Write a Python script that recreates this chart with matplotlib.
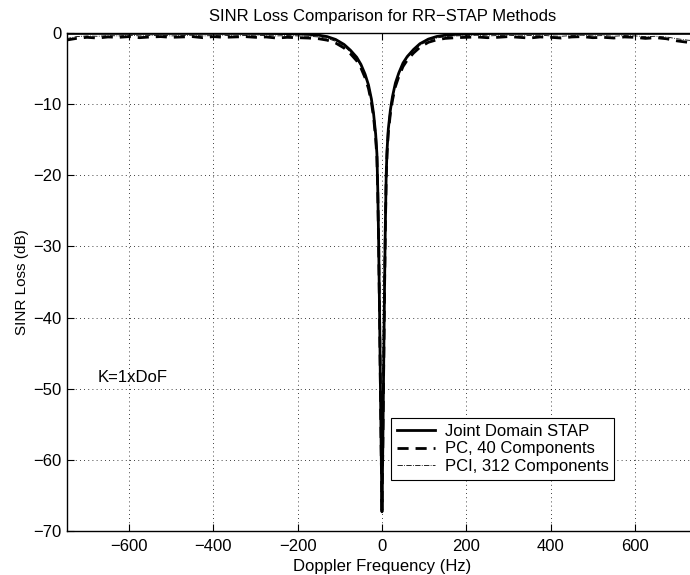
import matplotlib.pyplot as plt

plt.rcParams['font.family'] = ['Liberation Sans', 'DejaVu Sans']
plt.rcParams['font.size'] = 12

# Doppler grid (Hz)
freq_hz = [-750, -725, -700, -675, -650, -625, -600, -575, -550, -525, -500,
           -475, -450, -425, -400, -375, -350, -325, -300, -275, -250, -225,
           -200, -175, -150, -130, -110, -90, -75, -60, -50, -40, -32, -25,
           -20, -15, -12, -10, -8, -6, -4, -2, 0,
           2, 4, 6, 8, 10, 12, 15, 20, 25, 32, 40, 50, 60, 75, 90, 110, 130,
           150, 175, 200, 225, 250, 275, 300, 325, 350, 375, 400, 425, 450,
           475, 500, 525, 550, 575, 600, 625, 650, 675, 700, 725, 750]

# SINR loss (dB)
stap_db = [-0.05, -0.05, -0.05, -0.05, -0.05, -0.05, -0.05, -0.05, -0.05, -0.05,
           -0.05, -0.05, -0.05, -0.05, -0.05, -0.05, -0.05, -0.05, -0.05, -0.06,
           -0.07, -0.09, -0.12, -0.18, -0.3, -0.5, -0.9, -1.6, -2.4, -3.4, -4.4,
           -5.8, -7.3, -9.3, -11.3, -14.2, -17.0, -22.0, -29.0, -38.0, -48.0,
           -58.0, -67.3,
           -58.0, -47.0, -36.0, -27.0, -20.0, -16.5, -13.5, -10.8, -8.9, -7.0,
           -5.6, -4.2, -3.3, -2.3, -1.5, -0.85, -0.48, -0.3, -0.18, -0.12, -0.09,
           -0.07, -0.06, -0.05, -0.05, -0.05, -0.05, -0.05, -0.05, -0.05, -0.05,
           -0.05, -0.05, -0.05, -0.05, -0.05, -0.05, -0.05, -0.05, -0.05, -0.05,
           -0.05]

pc_db = [-1.0, -0.75, -0.6, -0.7, -0.55, -0.6, -0.5, -0.65, -0.55, -0.5, -0.6,
         -0.55, -0.5, -0.65, -0.5, -0.6, -0.55, -0.5, -0.6, -0.55, -0.7, -0.6,
         -0.65, -0.7, -0.8, -1.0, -1.4, -2.1, -2.9, -3.9, -4.9, -6.3, -7.8,
         -9.8, -11.8, -14.8, -17.5, -22.5, -29.5, -38.5, -48.5, -58.5, -67.0,
         -58.5, -47.5, -36.5, -27.5, -20.5, -17.0, -14.0, -11.3, -9.4, -7.5,
         -6.1, -4.7, -3.8, -2.8, -2.0, -1.3, -0.95, -0.75, -0.65, -0.6, -0.55,
         -0.65, -0.6, -0.5, -0.6, -0.7, -0.55, -0.6, -0.7, -0.55, -0.5, -0.65,
         -0.6, -0.7, -0.55, -0.6, -0.75, -0.65, -0.8, -1.1, -1.3, -1.4]

pci_db = [-0.8, -0.5, -0.4, -0.45, -0.35, -0.4, -0.3, -0.4, -0.35, -0.3, -0.4,
          -0.35, -0.3, -0.4, -0.35, -0.3, -0.4, -0.35, -0.3, -0.35, -0.4, -0.35,
          -0.4, -0.45, -0.55, -0.75, -1.15, -1.85, -2.65, -3.65, -4.65, -6.0,
          -7.5, -9.5, -11.5, -14.5, -17.2, -22.2, -29.2, -38.2, -48.2, -58.2,
          -67.0,
          -58.2, -47.2, -36.2, -27.2, -20.2, -16.7, -13.7, -11.0, -9.1, -7.2,
          -5.8, -4.4, -3.5, -2.5, -1.7, -1.05, -0.7, -0.5, -0.4, -0.35, -0.3,
          -0.4, -0.35, -0.3, -0.4, -0.35, -0.3, -0.4, -0.45, -0.35, -0.3, -0.4,
          -0.35, -0.45, -0.35, -0.4, -0.5, -0.45, -0.55, -0.8, -1.0, -1.1]

x_ticks = [-600, -400, -200, 0, 200, 400, 600]
y_ticks = [0, -10, -20, -30, -40, -50, -60, -70]

fig = plt.figure(figsize=(6.9, 5.75), dpi=100)
ax = fig.add_axes([0.0967, 0.0765, 0.915, 0.866])

ax.plot(freq_hz, stap_db, color='black', lw=2.0, ls='-', label='Joint Domain STAP')
ax.plot(freq_hz, pc_db, color='black', lw=2.0, ls=(0, (4, 2.5)), label='PC, 40 Components')
ax.plot(freq_hz, pci_db, color='black', lw=0.6, ls='-.', label='PCI, 312 Components')

ax.set_xlim(-748, 750)
ax.set_ylim(-70, 0)
ax.set_xticks(x_ticks)
ax.set_yticks(y_ticks)
ax.tick_params(direction='in', length=5, width=0.8, top=True, right=True)
ax.tick_params(axis='x', pad=6)
ax.tick_params(axis='y', pad=4)
ax.grid(True, color='black', ls=(0, (1, 4)), lw=0.6)
for s in ax.spines.values():
    s.set_linewidth(1.0)

ax.set_title('SINR Loss Comparison for RR\u2212STAP Methods', fontsize=12, pad=9)
ax.set_xlabel('Doppler Frequency (Hz)', labelpad=3)
ax.set_ylabel('SINR Loss (dB)', fontsize=11, labelpad=3)

ax.text(-674, -48.4, 'K=1xDoF', ha='left', va='center')

leg = ax.legend(loc='upper left', bbox_to_anchor=(0.514, 0.227),
                fancybox=False, edgecolor='black', framealpha=1,
                borderaxespad=0, handlelength=2.3, handletextpad=0.55,
                borderpad=0.35, labelspacing=0.16)
leg.get_frame().set_linewidth(0.8)

fig.savefig('out.png', dpi=100)
